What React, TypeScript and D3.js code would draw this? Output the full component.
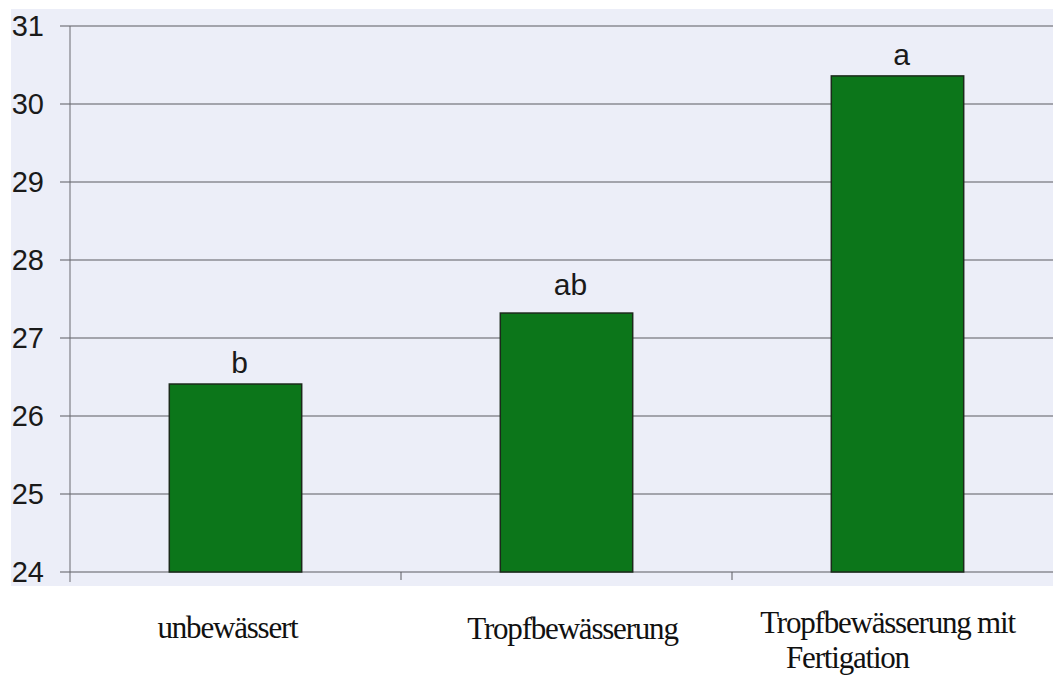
import React from "react";
import * as d3 from "d3";

const categories = ["unbewässert", "Tropfbewässerung", "Tropfbewässerung mit Fertigation"];
const values = [26.41, 27.32, 30.36];
const letters = ["b", "ab", "a"];
const yTicks = [24, 25, 26, 27, 28, 29, 30, 31];
const labelLines = [["unbewässert"], ["Tropfbewässerung"], ["Tropfbewässerung mit", "Fertigation"]];

const W = 1053;
const H = 683;

export default function App() {
  const y = d3.scaleLinear().domain([24, 31]).range([572, 26]);
  const x = d3.scaleBand<string>().domain(categories).range([70, 1063]).padding(0);
  const bw = x.bandwidth() * 0.4;
  const labelOffsets = [
    [{ dx: -8, y: 638 }],
    [{ dx: 6, y: 639 }],
    [{ dx: -10, y: 633 }, { dx: -50, y: 668 }],
  ];

  return (
    <div style={{ position: "absolute", left: 0, top: 0 }}>
      <svg width={W} height={H} style={{ display: "block", background: "#ffffff" }}>
        <rect x={11} y={9} width={W - 11} height={586 - 9} fill="#eceef8" />
        {/* gridlines */}
        {yTicks.map((t) => (
          <line key={"g" + t} x1={60} x2={W} y1={y(t)} y2={y(t)} stroke="#5a5a60" strokeWidth={1.1} />
        ))}
        {/* y axis */}
        <line x1={70} x2={70} y1={y(31)} y2={y(24) + 10} stroke="#6a6a70" strokeWidth={1} />
        {/* x ticks at band boundaries */}
        {categories.slice(1).map((c) => (
          <line key={"xt" + c} x1={x(c)!} x2={x(c)!} y1={y(24)} y2={y(24) + 8} stroke="#5a5a60" strokeWidth={1} />
        ))}
        {/* y tick labels */}
        {yTicks.map((t) => (
          <text
            key={"l" + t}
            x={44}
            y={y(t) + 10}
            textAnchor="end"
            fontFamily="Liberation Sans, Arial, sans-serif"
            fontSize={29}
            fill="#1a1a1a"
          >
            {t}
          </text>
        ))}
        {/* bars */}
        {categories.map((c, i) => {
          const cx = x(c)! + x.bandwidth() / 2;
          return (
            <rect
              key={"b" + c}
              x={cx - bw / 2}
              y={y(values[i])}
              width={bw}
              height={y(24) - y(values[i])}
              fill="#0c761a"
              stroke="#1b2a1b"
              strokeWidth={1.5}
            />
          );
        })}
        {/* significance letters */}
        {categories.map((c, i) => {
          const cx = x(c)! + x.bandwidth() / 2;
          const gap = i === 1 ? 18 : 11;
          return (
            <text
              key={"s" + c}
              x={cx + 4}
              y={y(values[i]) - gap}
              textAnchor="middle"
              fontFamily="Liberation Sans, Arial, sans-serif"
              fontSize={30}
              fill="#1a1a1a"
            >
              {letters[i]}
            </text>
          );
        })}
        {/* category labels */}
        {categories.map((c, i) => {
          const cx = x(c)! + x.bandwidth() / 2;
          return labelLines[i].map((line, j) => (
            <text
              key={"c" + i + j}
              x={cx + labelOffsets[i][j].dx}
              y={labelOffsets[i][j].y}
              textAnchor="middle"
              fontFamily="Liberation Serif, Times New Roman, serif"
              fontSize={31}
              letterSpacing={-1.2}
              fill="#111"
            >
              {line}
            </text>
          ));
        })}
      </svg>
    </div>
  );
}
